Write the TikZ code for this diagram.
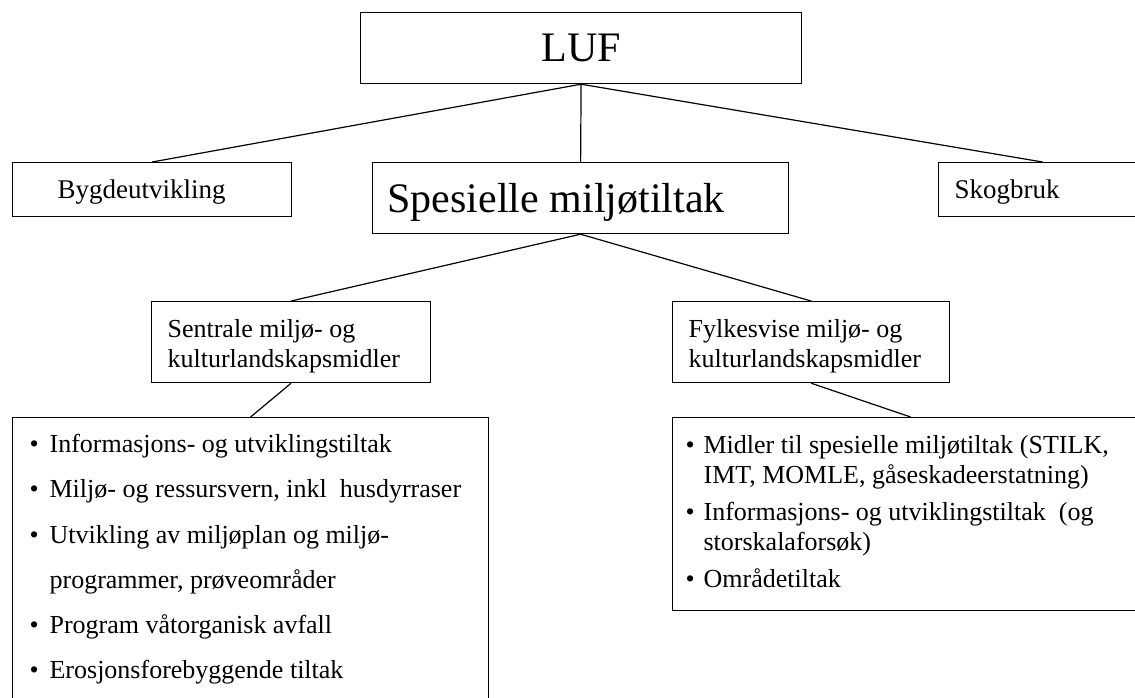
\documentclass[tikz,border=0pt]{standalone}
\usepackage{fontspec}
\setmainfont{Liberation Serif}
\usepackage{tikz}
\usetikzlibrary{positioning}
\tikzstyle{box} = [draw,rectangle,line width=1.2pt,inner sep=0pt,anchor=north west]
\tikzstyle{item} = [inner sep=0pt,anchor=base west,font=\fontsize{26}{30}\selectfont]
\tikzset{>=latex}
\newcommand{\blt}[1]{\makebox[#1][l]{\textbullet}}
\newcommand{\lline}[2]{\makebox[#1][l]{#2}}
\newcommand{\tline}[2]{\parbox[t]{#1}{#2}}

\begin{document}
\begin{tikzpicture}[x=1pt,y=-1pt,line width=1.2pt]
    \useasboundingbox (0,0) rectangle (1135,698);
    \clip (0,0) rectangle (1135,698);
    % top level
    \node [box,minimum width=441pt,minimum height=71pt,text depth=0pt,font=\fontsize{42}{50}\selectfont] (luf) at (360,12) {LUF};
    \node [box,minimum height=54pt,inner xsep=45pt,text depth=0pt,font=\fontsize{27}{32}\selectfont] (bygd) at (12,162) {\lline{189pt}{Bygdeutvikling}};
    \node [box,minimum height=71pt,inner xsep=15pt,text depth=0pt,font=\fontsize{42}{50}\selectfont] (spes) at (372,162) {\lline{386pt}{Spesielle miljøtiltak}};
    \node [box,minimum height=54pt,inner xsep=16pt,text depth=0pt,font=\fontsize{27}{32}\selectfont] (skog) at (938,162) {\lline{176pt}{Skogbruk}};
    % second level
    \node [box,minimum height=81pt,inner xsep=16pt,text height=27pt,text depth=36pt,font=\fontsize{26}{30}\selectfont] (sentral) at (151,301) {\tline{247pt}{Sentrale miljø- og\\kulturlandskapsmidler}};
    \node [box,minimum height=81pt,inner xsep=16pt,text height=27pt,text depth=36pt,font=\fontsize{26}{30}\selectfont] (fylke) at (672,301) {\tline{245pt}{Fylkesvise miljø- og\\kulturlandskapsmidler}};
    % lists
    \node [box,minimum width=476pt,minimum height=300pt] (tiltakA) at (12,417) {};
    \node [box,minimum width=476pt,minimum height=193pt] (tiltakB) at (672,417) {};
    \node [item] (a1) at (29,452) {\blt{20pt}Informasjons- og utviklingstiltak};
    \node [item] (a2) at (29,497) {\blt{20pt}Miljø- og ressursvern, inkl~ husdyrraser};
    \node [item] (a3) at (29,543) {\blt{20pt}Utvikling av miljøplan og miljø-};
    \node [item] (a4) at (49,588) {programmer, prøveområder};
    \node [item] (a5) at (29,633) {\blt{20pt}Program våtorganisk avfall};
    \node [item] (a6) at (29,678) {\blt{20pt}Erosjonsforebyggende tiltak};
    \node [item] (b1) at (685,453) {\blt{18pt}Midler til spesielle miljøtiltak (STILK,};
    \node [item] (b2) at (703,483) {IMT, MOMLE, gåseskadeerstatning)};
    \node [item] (b3) at (685,520) {\blt{18pt}Informasjons- og utviklingstiltak~ (og};
    \node [item] (b4) at (703,550) {storskalaforsøk)};
    \node [item] (b5) at (685,587) {\blt{18pt}Områdetiltak};
    % connectors
    \draw (luf.south) -- (bygd.north);
    \draw (luf.south) -- (spes.north);
    \draw (luf.south) -- (skog.north);
    \draw (spes.south) -- (sentral.north);
    \draw (spes.south) -- (fylke.north);
    \draw (sentral.south) -- (tiltakA.north);
    \draw (fylke.south) -- (tiltakB.north);
\end{tikzpicture}
\end{document}
